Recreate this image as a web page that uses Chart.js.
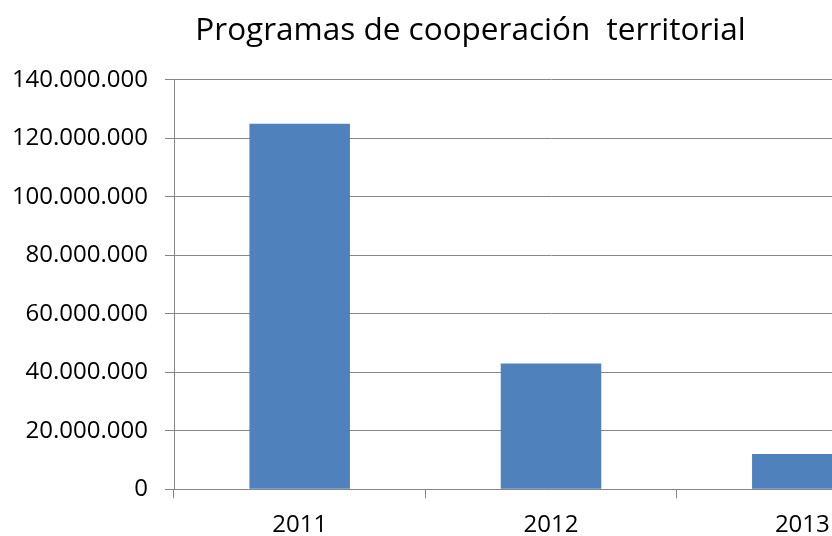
<!DOCTYPE html>
<html>
<head>
<meta charset="utf-8">
<script src="https://cdn.jsdelivr.net/npm/chart.js@4"></script>
<style>
  html, body { margin: 0; padding: 0; background: #fff; overflow: hidden; }
  #wrap { width: 950px; height: 553px; }
</style>
</head>
<body>
<div id="wrap"><canvas id="chart" width="950" height="553"></canvas></div>
<script>
const years = ['2011', '2012', '2013'];
const amounts = [125000000, 43000000, 12000000];
const yTicks = [0, 20000000, 40000000, 60000000, 80000000, 100000000, 120000000, 140000000];
const chartTitle = 'Programas de cooperación  territorial';

const gridColor = '#868686';
const fontName = "'Open Sans', sans-serif";

// 140000000 -> 140.000.000
function withDots(n) {
  return String(n).replace(/\B(?=(\d{3})+(?!\d))/g, '.');
}

new Chart(document.getElementById('chart'), {
  type: 'bar',
  data: {
    labels: years,
    datasets: [{
      data: amounts,
      backgroundColor: '#4F81BD',
      borderWidth: 0,
      categoryPercentage: 1,
      barPercentage: 0.4
    }]
  },
  options: {
    responsive: false,
    animation: false,
    layout: { padding: { left: 13, right: 22, top: 0, bottom: 0 } },
    plugins: {
      legend: { display: false },
      tooltip: { enabled: false },
      title: {
        display: true,
        text: chartTitle,
        color: '#000',
        font: { family: fontName, size: 31.5, weight: 'normal' },
        padding: { top: 12, bottom: 30 }
      }
    },
    scales: {
      x: {
        grid: {
          display: true,
          drawOnChartArea: false,
          drawTicks: true,
          tickLength: 9,
          color: gridColor
        },
        border: { color: gridColor, width: 1 },
        ticks: {
          color: '#000',
          padding: 13,
          font: { family: fontName, size: 24 }
        }
      },
      y: {
        min: 0,
        max: yTicks[yTicks.length - 1],
        afterBuildTicks: axis => { axis.ticks = yTicks.map(v => ({ value: v })); },
        afterFit: axis => { axis.width = 161; },
        grid: {
          color: gridColor,
          tickLength: 9,
          drawTicks: true
        },
        border: { color: gridColor, width: 1 },
        ticks: {
          color: '#000',
          padding: 17,
          font: { family: fontName, size: 24 },
          callback: v => withDots(v)
        }
      }
    }
  }
});
</script>
</body>
</html>
